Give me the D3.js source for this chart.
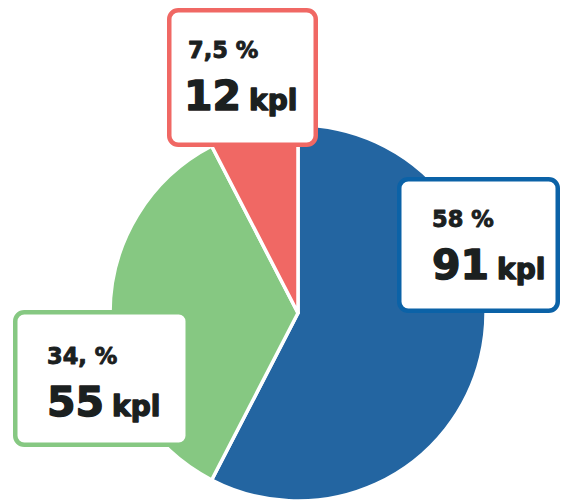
<!DOCTYPE html>
<html>
<head>
<meta charset="utf-8">
<script src="https://cdn.jsdelivr.net/npm/d3@7"></script>
<style>
  body { margin: 0; background: #fff; }
  svg { display: block; }
  text { font-family: "DejaVu Sans", sans-serif; font-weight: bold; fill: #1b2020; stroke: #1b2020; stroke-linejoin: round; }
</style>
</head>
<body>
<script>
// Data
var values = [91, 55, 12];
var percentLabels = ["58 %", "34, %", "7,5 %"];
var amountLabels = ["91", "55", "12"];
var unitLabel = "kpl";
var sliceColors = ["#2365a1", "#86c882", "#f06864"];
var borderColors = ["#0b62a7", "#86c882", "#f06864"];

const width = 562;
const height = 500;
const cx = 298;
const cy = 313;
const radius = 188;

// label boxes (outer edges), same order as values
var boxes = [
    { x: 397, y: 177, w: 163, h: 136, tx: 35, ty: 0 },
    { x: 13, y: 310, w: 177, h: 137, tx: 34, ty: 4 },
    { x: 167, y: 8, w: 151, h: 139, tx: 21, ty: 0 }
];

let svg = d3.select("body")
    .append("svg")
    .attr("width", width)
    .attr("height", height);

let pie = d3.pie()
    .sort(null)
    .value(d => d);

let arc = d3.arc()
    .innerRadius(0)
    .outerRadius(radius);

svg.append("g")
    .attr("transform", `translate(${cx},${cy})`)
    .selectAll("path")
    .data(pie(values))
    .enter()
    .append("path")
    .attr("d", arc)
    .attr("fill", (d, i) => sliceColors[i])
    .attr("stroke", "#fff")
    .attr("stroke-width", 3.5)
    .attr("stroke-linejoin", "round");

// Label boxes
const bw = 4.5;
let labels = svg.append("g")
    .selectAll("g")
    .data(values)
    .enter()
    .append("g")
    .attr("transform", (d, i) => `translate(${boxes[i].x},${boxes[i].y})`);

labels.append("rect")
    .attr("x", bw / 2)
    .attr("y", bw / 2)
    .attr("width", (d, i) => boxes[i].w - bw)
    .attr("height", (d, i) => boxes[i].h - bw)
    .attr("rx", 9)
    .attr("fill", "#fff")
    .attr("stroke", (d, i) => borderColors[i])
    .attr("stroke-width", bw);

labels.append("text")
    .attr("x", (d, i) => boxes[i].tx)
    .attr("y", (d, i) => 50 + boxes[i].ty)
    .style("font-size", "22.5px")
    .style("stroke-width", 0.9)
    .text((d, i) => percentLabels[i]);

let big = labels.append("text")
    .attr("x", (d, i) => boxes[i].tx - (amountLabels[i][0] === "1" ? 4 : 0))
    .attr("y", (d, i) => 102 + boxes[i].ty)
    .style("font-size", "41px")
    .style("stroke-width", 1.4)
    .text((d, i) => amountLabels[i]);

big.append("tspan")
    .attr("dx", 8)
    .style("font-size", "28px")
    .text(unitLabel);
</script>
</body>
</html>
